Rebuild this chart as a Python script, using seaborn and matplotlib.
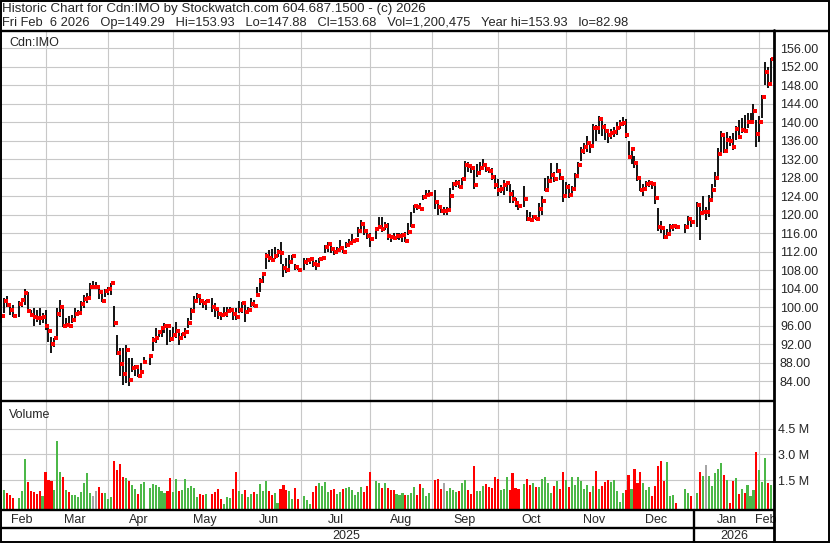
import numpy as np
import pandas as pd
import matplotlib
matplotlib.use("Agg")
import matplotlib.pyplot as plt
from matplotlib.lines import Line2D
from matplotlib.patches import Rectangle
from matplotlib.ticker import FixedLocator, FuncFormatter, FormatStrFormatter
from matplotlib.transforms import blended_transform_factory
import seaborn as sns

# every weekday gets a slot, market holidays stay empty (as stockwatch draws it)
days = pd.bdate_range("2025-02-10", "2026-02-06")
holidays = pd.to_datetime(["2025-02-17", "2025-04-18", "2025-05-19", "2025-07-01",
                           "2025-08-04", "2025-09-01", "2025-10-13", "2025-12-25",
                           "2025-12-26", "2026-01-01"])

high = [
    99.0, 101.9, 102.4, 100.4, 100.4, 101.2, 101.7, 103.8, 103.3, 99.4, 99.7, 99.4, 99.7, 98.6,
    99.4, 95.8, 93.6, 93.4, 99.7, 101.5, 100.4, 97.6, 98.1, 98.3, 99.7, 99.4, 101.2, 102.6, 103.0, 105.1, 105.7, 105.5, 104.4, 103.7, 104.0,
    104.4, 105.3, 100.2, 94.0, 91.1, 91.1, 91.8, 88.9, 88.9, 87.5, 86.8, 87.8, 89.3, 89.6, 93.6, 95.4, 95.0, 95.6, 96.5, 96.1, 95.0,
    95.6, 96.8, 94.3, 94.3, 95.4, 97.6, 99.7, 102.4, 103.1, 102.9, 101.2, 101.5, 101.9, 100.8, 99.3, 99.0, 100.1, 100.1, 100.1, 99.3, 99.7,
    101.2, 101.0, 100.8, 100.1, 101.9, 101.5, 104.4, 106.2, 107.6, 111.6, 112.3, 112.5, 112.9, 112.5, 114.1, 109.4, 110.5, 111.2, 111.2, 109.4, 108.6,
    110.5, 110.7, 110.7, 110.2, 110.2, 110.7, 110.7, 113.4, 114.1, 113.4, 112.7, 113.0, 114.5, 112.9, 114.1, 114.8, 115.8, 114.8, 117.4, 118.8, 117.7, 116.3,
    115.9, 117.0, 119.5, 119.5, 118.4, 118.2, 115.5, 115.9, 116.1, 115.9, 116.1, 116.3, 118.1, 120.6, 122.0, 121.8, 122.4, 124.2, 125.3, 125.4,
    125.2, 122.8, 121.7, 121.7, 121.6, 125.7, 127.1, 127.5, 127.5, 128.0, 131.6, 131.4, 130.6, 130.0, 131.0, 131.4, 131.9, 131.2, 130.3, 130.0, 128.5,
    127.6, 126.4, 127.5, 127.3, 126.7, 125.2, 123.5, 123.0, 126.2, 121.0, 120.5, 119.9, 120.0, 122.4, 123.9, 127.8, 128.3, 131.1, 129.3, 131.1, 129.6, 127.5,
    127.0, 126.5, 126.2, 129.0, 131.4, 134.5, 135.5, 137.0, 135.5, 139.5, 139.3, 141.3, 140.5, 139.6, 138.5, 138.5, 139.0, 140.0, 140.5, 141.0,
    140.6, 136.0, 134.7, 132.6, 131.0, 127.5, 126.5, 127.3, 127.5, 127.3, 126.5, 121.5, 118.5, 117.5, 116.8, 118.0, 118.0, 117.6, 118.0, 119.6, 119.5,
    122.8, 121.7, 124.0, 121.7, 124.2, 126.7, 129.3, 134.3, 138.1, 137.0, 137.9, 137.0, 137.6, 139.1, 140.4, 140.8, 141.5, 141.9, 141.9, 144.0, 140.4,
    141.3, 145.8, 152.9, 151.8, 153.93,
]
low = [
    96.5, 98.6, 100.1, 98.3, 97.8, 97.9, 100.1, 100.4, 99.0, 97.9, 95.8, 96.8, 96.1, 96.5,
    95.0, 92.5, 90.1, 91.4, 93.6, 97.9, 95.6, 95.6, 95.8, 96.5, 97.6, 98.3, 99.0, 99.7, 100.8, 101.9, 104.0, 104.0, 101.7, 101.0, 102.2,
    102.6, 102.6, 95.6, 89.6, 85.0, 83.2, 83.5, 82.98, 86.0, 85.0, 84.8, 85.3, 87.8, 87.5, 90.4, 92.2, 93.6, 93.6, 94.3, 91.8, 92.5,
    92.9, 93.2, 91.8, 92.9, 93.2, 95.4, 97.2, 99.0, 101.2, 100.4, 99.7, 99.3, 99.0, 97.9, 97.5, 97.2, 97.9, 97.9, 98.6, 97.2, 97.3,
    98.6, 98.6, 96.8, 99.0, 99.9, 100.0, 102.2, 103.3, 105.1, 108.3, 109.8, 109.9, 110.3, 110.9, 109.4, 106.4, 107.3, 108.0, 109.4, 108.0, 107.9,
    108.0, 109.1, 109.4, 108.7, 107.9, 108.7, 110.0, 111.6, 112.0, 111.7, 111.2, 111.6, 112.0, 111.6, 112.7, 113.4, 113.8, 114.1, 115.2, 116.7, 115.6, 114.8,
    112.9, 114.8, 117.0, 116.3, 116.7, 114.5, 114.1, 114.5, 114.6, 114.5, 114.1, 114.1, 115.6, 117.2, 120.3, 121.0, 121.1, 123.1, 123.9, 124.2,
    121.1, 119.9, 120.3, 119.9, 119.9, 120.8, 125.3, 126.0, 125.7, 125.7, 127.6, 129.3, 128.9, 125.6, 128.2, 129.3, 129.6, 129.3, 129.0, 127.5, 125.6,
    123.9, 124.6, 124.2, 125.0, 122.4, 122.5, 121.6, 121.0, 121.7, 118.5, 118.5, 118.8, 118.8, 119.3, 119.9, 125.0, 125.4, 127.6, 127.1, 129.0, 127.5, 122.8,
    124.5, 123.5, 124.0, 125.8, 128.5, 131.5, 133.0, 133.5, 133.2, 134.5, 136.0, 137.5, 137.0, 136.2, 135.5, 136.3, 136.8, 137.2, 138.5, 139.2,
    136.5, 132.0, 131.0, 130.0, 127.2, 125.0, 124.0, 125.0, 126.0, 125.5, 122.3, 116.5, 116.0, 114.6, 115.0, 116.3, 116.5, 116.8, 116.0, 117.8, 117.2,
    117.4, 114.5, 119.9, 118.8, 119.5, 123.5, 126.0, 128.2, 133.2, 133.2, 133.6, 134.8, 133.9, 136.1, 136.5, 137.6, 137.8, 138.6, 139.7, 140.4, 134.7,
    135.7, 140.8, 148.0, 147.3, 147.88,
]
close = [
    98.1, 101.4, 100.4, 99.4, 98.1, 100.7, 101.5, 103.1, 99.2, 98.3, 97.9, 97.7, 97.6, 97.9,
    96.0, 94.9, 92.0, 93.2, 98.5, 99.9, 95.8, 96.1, 95.9, 97.3, 98.5, 98.8, 100.6, 101.8, 102.0, 104.4, 104.4, 104.4, 103.3, 101.4, 103.5,
    103.8, 105.1, 96.6, 90.1, 87.7, 85.5, 90.7, 84.2, 86.8, 87.0, 85.0, 86.0, 88.1, 89.4, 92.8, 93.3, 94.5, 95.4, 96.0, 95.8, 93.0,
    94.0, 94.9, 93.4, 94.1, 94.7, 96.6, 99.2, 101.4, 102.4, 101.4, 100.8, 101.2, 99.9, 99.6, 98.5, 98.3, 98.4, 99.2, 99.3, 98.5, 97.9,
    99.3, 100.8, 99.0, 99.3, 100.6, 100.2, 102.6, 105.7, 107.1, 111.0, 110.6, 110.2, 111.0, 112.0, 111.7, 108.4, 108.1, 109.7, 111.0, 108.7, 108.1,
    109.8, 110.2, 110.4, 109.3, 109.1, 110.3, 110.5, 112.9, 113.6, 112.5, 112.0, 112.3, 112.7, 112.0, 113.4, 113.9, 114.3, 114.5, 116.5, 118.0, 116.5, 115.4,
    114.8, 116.8, 117.4, 116.8, 117.5, 115.4, 115.1, 115.0, 115.3, 115.4, 115.6, 114.3, 116.3, 117.5, 121.8, 121.6, 121.3, 123.7, 124.3, 124.4,
    122.8, 121.6, 120.8, 120.8, 121.0, 123.9, 126.6, 126.9, 125.9, 127.7, 130.8, 130.5, 130.0, 126.4, 129.0, 130.0, 130.7, 129.9, 129.5, 128.2, 126.4,
    125.3, 125.6, 126.4, 126.8, 124.4, 123.3, 122.5, 121.8, 123.3, 119.0, 118.8, 119.4, 119.1, 121.1, 123.0, 125.3, 127.3, 128.5, 127.6, 129.5, 128.0, 123.9,
    126.0, 124.2, 125.6, 128.3, 130.8, 133.8, 134.5, 135.4, 134.8, 138.7, 138.6, 140.7, 139.0, 138.1, 137.1, 137.6, 137.8, 138.6, 139.6, 139.7,
    137.3, 132.5, 134.2, 131.2, 127.8, 125.3, 125.5, 126.7, 126.9, 126.5, 123.6, 117.2, 117.0, 115.2, 115.8, 117.2, 117.5, 117.2, 117.4, 119.1, 118.4,
    122.1, 120.4, 120.5, 120.5, 123.1, 125.3, 128.0, 133.1, 137.2, 133.8, 136.1, 136.0, 134.5, 138.4, 136.8, 138.3, 138.0, 139.9, 140.1, 142.4, 137.4,
    140.1, 145.5, 150.9, 148.2, 153.68,
]
# volume in millions of shares
volume_m = [
    1.28, 0.93, 0.74, 0.64, 0.48, 0.48, 0.89, 2.73, 1.41, 0.89, 0.83, 0.70, 0.89, 0.58,
    2.00, 1.51, 1.45, 0.93, 3.78, 2.00, 1.71, 0.93, 0.81, 0.64, 0.64, 0.54, 0.83, 1.36, 1.94, 0.78, 0.58, 0.89, 1.12, 0.78, 0.78,
    0.43, 0.54, 2.64, 2.09, 2.44, 1.71, 1.65, 1.47, 1.22, 0.97, 0.70, 1.28, 1.40, 1.03, 1.28, 1.20, 1.09, 0.89, 0.74, 0.87, 1.63,
    0.83, 1.57, 0.89, 0.93, 1.57, 1.07, 1.16, 1.03, 0.54, 0.70, 0.64, 0.70, 0.70, 0.83, 0.99, 0.43, 0.12, 0.52, 0.45, 0.99, 2.00,
    0.89, 0.70, 0.93, 0.54, 0.70, 0.81, 0.70, 1.28, 0.89, 1.47, 0.89, 0.62, 0.74, 0.19, 0.97, 1.22, 0.93, 0.89, 0.41, 1.05, 0.41,
    0.58, 0.35, 0.12, 0.81, 1.16, 1.32, 1.16, 1.41, 0.81, 0.93, 0.99, 0.70, 0.81, 0.99, 1.03, 1.09, 0.93, 0.64, 0.81, 1.09, 0.81, 1.16,
    1.98, 1.45, 1.32, 1.05, 1.32, 1.05, 0.93, 0.93, 0.70, 0.64, 0.74, 0.62, 0.62, 0.74, 1.09, 0.62, 1.28, 1.03, 0.58, 0.74,
    1.51, 1.57, 0.99, 1.32, 0.89, 1.03, 0.93, 0.81, 0.89, 1.32, 1.51, 0.93, 0.70, 2.33, 0.89, 0.89, 1.16, 1.28, 1.09, 1.03, 1.67,
    1.57, 0.93, 1.00, 1.67, 0.93, 1.94, 1.03, 0.97, 1.28, 1.57, 1.22, 1.36, 1.09, 1.09, 1.57, 1.67, 1.32, 0.74, 1.16, 1.47, 0.99, 2.00,
    1.51, 1.09, 1.69, 1.22, 1.67, 1.45, 0.99, 1.22, 0.83, 1.16, 2.05, 0.99, 1.16, 1.41, 1.51, 1.41, 1.51, 0.89, 0.25, 0.78,
    0.93, 1.80, 0.97, 2.15, 1.32, 2.00, 1.36, 0.93, 1.09, 0.58, 1.16, 2.33, 2.62, 1.47, 2.58, 0.58, 0.64, 0.19, 0.97, 0.78, 0.58,
    0.74, 1.98, 1.74, 2.38, 1.74, 1.16, 1.94, 2.17, 2.52, 1.80, 1.51, 0.16, 1.47, 1.65, 0.70, 0.99, 0.78, 1.22, 0.58, 0.93, 3.16,
    2.09, 1.41, 2.77, 1.36, 1.20,
]

header1 = "Historic Chart for Cdn:IMO by Stockwatch.com 604.687.1500 - (c) 2026"
header2 = ("Fri Feb  6 2026   Op=149.29   Hi=153.93   Lo=147.88   Cl=153.68   "
           "Vol=1,200,475   Year hi=153.93   lo=82.98")

GREEN, RED, GRAY = "#4cb848", "#ff0000", "#a6a6a6"
GRID = "#c8c8c8"

slot = np.arange(len(days))
trading = ~days.isin(holidays)
df = pd.DataFrame({"date": days[trading], "x": slot[trading],
                   "high": high, "low": low, "close": close,
                   "vol": np.array(volume_m) * 1e6})
chg = df["close"].diff()
df["col"] = np.where(chg > 0, GREEN, np.where(chg < 0, RED, GRAY))
df["tick_x"] = df["x"] + 0.6

sns.set_style("white")
plt.rcParams["font.family"] = ["Liberation Sans", "DejaVu Sans"]
plt.rcParams["font.size"] = 9

W, H = 830, 543
fig = plt.figure(figsize=(W / 100, H / 100), dpi=100)
fx = lambda px: px / W
fy = lambda py: 1 - py / H

ax_p = fig.add_axes([fx(0), fy(401), fx(774), (401 - 31) / H])
ax_v = fig.add_axes([fx(0), fy(509.5), fx(774), (509.5 - 401) / H], sharex=ax_p)

# price panel: high-low bars with close tick
ax_p.vlines(df["x"], df["low"], df["high"], color="black", lw=1.3, zorder=3)
sns.scatterplot(data=df, x="tick_x", y="close", marker="s", s=5, color="red",
                linewidth=0, ax=ax_p, zorder=4)
ax_p.set_xlim(-0.3, 259.9)
ax_p.set_ylim(79.68, 159.68)
ax_p.set_yticks(np.arange(84, 157, 4))
ax_p.yaxis.set_major_formatter(FormatStrFormatter("%.2f"))
ax_p.yaxis.tick_right()
ax_p.tick_params(axis="y", length=0, pad=4.3, labelsize=9)
ax_p.set_xlabel("")
ax_p.set_ylabel("")

# volume panel
vfloor = -0.2035e6
ax_v.bar(df["x"], df["vol"] - vfloor, bottom=vfloor, width=0.7, color=df["col"],
         linewidth=0, zorder=3)
ax_v.set_ylim(vfloor, 6.105e6)
ax_v.set_yticks([1.5e6, 3.0e6, 4.5e6])
ax_v.yaxis.set_major_formatter(FuncFormatter(lambda v, p: f"{v / 1e6:.1f} M"))
ax_v.yaxis.tick_right()
ax_v.tick_params(axis="y", length=0, pad=3, labelsize=9)

# month boundaries and mid-month labels
month = days.to_period("M")
starts = [slot[month == m][0] for m in month.unique()[1:]]
mids, names = [], []
for m in df["date"].dt.to_period("M").unique():
    sel = df["x"][df["date"].dt.to_period("M") == m]
    mids.append(sel.mean())
    names.append(m.strftime("%b"))

for ax in (ax_p, ax_v):
    ax.xaxis.set_major_locator(FixedLocator(starts))
    ax.xaxis.set_minor_locator(FixedLocator(mids))
    ax.grid(True, which="major", color=GRID, lw=0.8)
    ax.set_axisbelow(True)
    for s in ax.spines.values():
        s.set_visible(False)
ax_p.tick_params(axis="x", which="both", length=0, labelbottom=False)
ax_v.xaxis.set_minor_formatter(FuncFormatter(lambda v, p: names[p] if p < len(names) else ""))
ax_v.tick_params(axis="x", which="major", length=0, labelbottom=False)
ax_v.tick_params(axis="x", which="minor", length=0, pad=3, labelsize=9)

ax_p.text(fx(9) / fx(774), 1 - (45.5 - 31) / 370, "Cdn:IMO", transform=ax_p.transAxes,
          va="baseline", fontsize=9)
ax_v.text(fx(9) / fx(774), 1 - (417.5 - 401) / 108.5, "Volume", transform=ax_v.transAxes,
          va="baseline", fontsize=9)

fig.text(fx(2), fy(12), header1, va="baseline", fontsize=9.6)
fig.text(fx(2), fy(26), header2, va="baseline", fontsize=9.3)

# frame
def line(x0, y0, x1, y1, lw=1.7, trans=fig.transFigure):
    fig.add_artist(Line2D([x0, x1], [y0, y1], transform=trans, color="black", lw=lw))

fig.add_artist(Rectangle((fx(0.8), fy(542.2)), fx(828.4), 541.4 / H, transform=fig.transFigure,
                         fill=False, edgecolor="black", lw=1.4))
line(fx(0), fy(30.5), fx(830), fy(30.5))
line(fx(774), fy(30), fx(774), fy(543), lw=2)
line(fx(0), fy(401), fx(774), fy(401))
line(fx(0), fy(510), fx(774), fy(510))
line(fx(0), fy(527.5), fx(774), fy(527.5))

jan = starts[names.index("Jan") - 1]
yr = blended_transform_factory(ax_v.transData, fig.transFigure)
line(jan, fy(510), jan, fy(543), lw=1.7, trans=yr)
fig.text(fx(346), fy(539.3), "2025", ha="center", va="baseline", fontsize=9)
fig.text(fx(734), fy(539.3), "2026", ha="center", va="baseline", fontsize=9)

fig.savefig("out.png", dpi=100)
